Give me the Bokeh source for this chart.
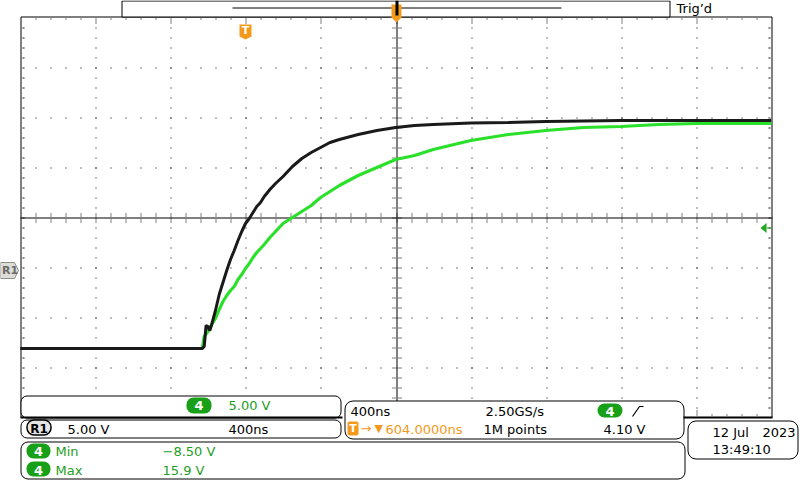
from bokeh.plotting import figure
from bokeh.models import Range1d, BoxAnnotation, Label
from bokeh.embed import file_html
from bokeh.resources import INLINE

# R1 (reference waveform, black), time relative to trigger point
ref_time_ns = [-1200, -800, -400, -230, -220, -210, -200, -190, -180,
               -160, -140, -120, -100, -80, -60, -40, -20,
               0, 20, 40, 60, 80, 100,
               130, 160, 200, 250, 300, 350, 400, 450, 500,
               600, 700, 800, 900, 1000,
               1200, 1400, 1600, 1800, 2000, 2400, 2800]
ref_volts = [-7.8, -7.8, -7.8, -7.8, -7.6, -5.5, -5.6, -6.0, -5.4,
             -4.0, -2.4, -1.2, 0.0, 1.1, 2.0, 3.0, 3.9,
             4.7, 5.2, 5.8, 6.4, 6.8, 7.4,
             8.1, 8.7, 9.4, 10.4, 11.2, 11.8, 12.3, 12.8, 13.1,
             13.6, 14.0, 14.3, 14.5, 14.6,
             14.75, 14.8, 14.9, 14.95, 15.0, 15.0, 15.0]

# Channel 4 (green)
ch4_time_ns = [-1200, -800, -400, -230, -220, -200, -180, -160, -140,
               -120, -100, -80, -60, -40, -20,
               0, 20, 40, 60, 80, 100,
               130, 160, 200, 250, 300, 350, 400, 450, 500,
               600, 700, 800, 900, 1000,
               1200, 1400, 1600, 1800, 2000, 2200, 2400, 2600, 2800]
ch4_volts = [-7.8, -7.8, -7.8, -7.8, -6.6, -6.1, -5.4, -4.8, -3.9,
             -3.1, -2.5, -2.0, -1.6, -0.9, -0.4,
             0.2, 0.7, 1.3, 1.8, 2.2, 2.6,
             3.3, 3.9, 4.7, 5.3, 5.9, 6.5, 7.3, 7.9, 8.5,
             9.5, 10.3, 11.1, 11.5, 12.1,
             13.0, 13.6, 14.0, 14.3, 14.4, 14.6, 14.7, 14.7, 14.7]

ch4_scale_text = "5.00 V"
ref_scale_text = "5.00 V"
ref_timebase_text = "400ns"
timebase_text = "400ns"
sample_rate_text = "2.50GS/s"
record_text = "1M points"
trigger_level_text = "4.10 V"
trigger_offset_text = "604.0000ns"
meas_names = ["Min", "Max"]
meas_values = ["\u22128.50 V", "15.9 V"]
date_text = ["12 Jul", "2023"]
clock_text = "13:49:10"
status_text = "Trig\u2019d"
channel_text = "4"
ref_text = "R1"

# ---------------- layout (screen pixels) ----------------
W, H = 800, 480
GX0, GX1 = 20, 771
GY0, GY1 = 16, 417
DIV_X, DIV_Y = 75.1, 50
NS_PER_DIV, V_PER_DIV = 400, 5
TRIG_COL, GND_ROW = 245, 270
CEN_COL, CEN_ROW = 396, 217

GREEN_TRACE = "#2BE02B"
GREEN_TXT = "#1E9E1E"
GREEN_BADGE = "#18A018"
ORANGE = "#F39A1C"
FONT = "DejaVu Sans"
TEXT_DY = -5   # rendered glyphs sit about 5px below the requested baseline

t_left = (0 - TRIG_COL) / DIV_X * NS_PER_DIV
t_right = (W - TRIG_COL) / DIV_X * NS_PER_DIV
v_top = GND_ROW / DIV_Y * V_PER_DIV
v_bottom = (GND_ROW - H) / DIV_Y * V_PER_DIV

p = figure(width=W, height=H, x_range=Range1d(0, W), y_range=Range1d(H, 0),
           output_backend="svg", toolbar_location=None, title=None,
           x_axis_location=None, y_axis_location=None, min_border=0,
           outline_line_color=None, background_fill_color="white",
           border_fill_color="white")
p.grid.visible = False
p.extra_x_ranges = {"time": Range1d(t_left, t_right)}
p.extra_y_ranges = {"volts": Range1d(v_bottom, v_top)}


def dots(cols, rows, color="black"):
    p.quad(left=cols, right=[c + 1 for c in cols], top=rows,
           bottom=[r + 1 for r in rows], fill_color=color, line_color=None)


major_cols = [round(GX0 + DIV_X * k) for k in range(1, 10)]
major_rows = [GY0 + 1 + DIV_Y * k for k in range(1, 8)]
minor_cols = [round(GX0 + DIV_X / 5 * j) for j in range(1, 50)]
minor_rows = [GY0 + 1 + 10 * j for j in range(1, 40)]

# graticule dots
cs, rs = [], []
for c in major_cols:
    if c == CEN_COL:
        continue
    for r in minor_rows:
        cs.append(c); rs.append(r)
for r in major_rows:
    if r == CEN_ROW:
        continue
    for c in minor_cols:
        cs.append(c); rs.append(r)
# centre line ticks
for r in minor_rows:
    for dc in (-4, -2, 2, 4):
        cs.append(CEN_COL + dc); rs.append(r)
for c in minor_cols:
    for dr in (-4, -2, 2, 4):
        cs.append(c); rs.append(CEN_ROW + dr)
# border ticks
for r in minor_rows:
    for c in (GX0 + 2, GX0 + 3, GX1 - 3, GX1 - 2):
        cs.append(c); rs.append(r)
for c in minor_cols:
    cs.append(c); rs.append(GY0 + 2)
    cs.append(c); rs.append(GY1 - 3)
for c in major_cols:
    for r in (GY0 + 4, GY0 + 6, GY1 - 5, GY1 - 7):
        cs.append(c); rs.append(r)
dots(cs, rs)

# centre cross and border
p.line([CEN_COL + 0.5, CEN_COL + 0.5], [GY0, GY1], line_color="black", line_width=1)
p.line([GX0, GX1 + 1], [CEN_ROW + 0.5, CEN_ROW + 0.5], line_color="black", line_width=1)
p.line([GX0 + 0.5, GX0 + 0.5, GX1 + 0.5, GX1 + 0.5], [GY1, GY0 + 0.5, GY0 + 0.5, GY1],
       line_color="black", line_width=1)

# record bar
p.quad(left=[121.5], right=[669.5], top=[0.5], bottom=[16.5], fill_color="white",
       line_color="black", line_width=1)
p.line([232, 561], [7.5, 7.5], line_color="black", line_width=1)
p.patch([391, 401, 401, 396, 391], [4, 4, 17, 22, 17], fill_color=ORANGE, line_color=None)
p.quad(left=[395], right=[398], top=[0], bottom=[15], fill_color="black", line_color=None)

# trigger point marker
p.patch([239, 251, 251, 245, 239], [24, 24, 36, 39, 36], fill_color=ORANGE, line_color=None)

# R1 tag on the left, trigger level arrow on the right
p.patch([0, 14, 18, 14, 0], [262, 262, 270, 278, 278], fill_color="#DCDDD6",
        line_color="#8E8E8E", line_width=1)
p.patch([760, 766, 766], [227.5, 222.5, 232.5], fill_color="#22A822", line_color=None)
p.line([766, 771], [227.5, 227.5], line_color="#22A822", line_width=1)

# traces
p.line(ch4_time_ns, ch4_volts, x_range_name="time", y_range_name="volts",
       line_color=GREEN_TRACE, line_width=3.2)
p.line(ref_time_ns, ref_volts, x_range_name="time", y_range_name="volts",
       line_color="#1A1A1A", line_width=3.0)


def box(l, r, t, b, fill="white", line="black", lw=1, rad=6):
    p.add_layout(BoxAnnotation(left=l, right=r, top=t, bottom=b, fill_color=fill,
                               fill_alpha=1, line_color=line, line_alpha=1 if line else 0,
                               line_width=lw, border_radius=rad))


# panels
box(20.5, 340.5, 395.5, 417.5, rad=6)
box(20.5, 340.5, 419.5, 437.5, rad=6)
box(20.5, 684.5, 441.5, 478.5, rad=7)
box(344.5, 683.5, 400.5, 438.5, rad=8)
box(687.5, 797.5, 420.5, 458.5, rad=8)
# badges
for (l, r, t, b) in [(186, 211, 397, 413), (26, 50, 443, 458), (26, 50, 461, 476),
                     (597, 622, 403, 417)]:
    box(l, r, t, b, fill=GREEN_BADGE, line=None, rad=7)
box(26.5, 50.5, 419.5, 434.5, fill="#E4E4E4", line="black", lw=1.5, rad=7)
box(347, 358, 421, 435, fill=ORANGE, line=None, rad=2)

# thick bottom edge of graticule + rising edge icon (on top of panels)
for xs in ([GX0, 342], [683, GX1 + 1]):
    rr = p.line(xs, [GY1, GY1], line_color="black", line_width=2)
    rr.level = "overlay"
rr = p.line([632, 639, 643], [416, 406, 406], line_color="black", line_width=1.2)
rr.level = "overlay"


def label(x, y, text, color="black", bold=False, size=13, align="left"):
    p.add_layout(Label(x=x, y=y + TEXT_DY, text=text, text_color=color, text_font=FONT,
                       text_font_size=f"{size}px",
                       text_font_style="bold" if bold else "normal",
                       text_align=align, text_baseline="alphabetic"))


label(676, 13, status_text)
label(245, 35, "T", color="white", bold=True, size=11, align="center")
label(1.5, 275, ref_text, color="#6A6A6A", bold=True, size=11)

label(198.5, 409.5, channel_text, color="white", bold=True, align="center")
label(228, 410, ch4_scale_text, color=GREEN_TXT)

label(38.5, 433, ref_text, bold=True, size=12, align="center")
label(67, 434, ref_scale_text)
label(228, 434, ref_timebase_text)

for yb, name, val in zip([456, 474.5], meas_names, meas_values):
    label(38, yb, channel_text, color="white", bold=True, align="center")
    label(55, yb, name, color=GREEN_TXT)
    label(162, yb, val, color=GREEN_TXT)

label(350, 416, timebase_text)
label(485, 416, sample_rate_text)
label(609.5, 415.5, channel_text, color="white", bold=True, align="center")
label(352.5, 433, "T", color="white", bold=True, size=11, align="center")
label(360, 433, "\u2192", color=ORANGE)
label(374, 433, "\u25BC", color=ORANGE, size=11)
label(385, 434, trigger_offset_text, color=ORANGE)
label(483, 434, record_text)
label(603, 434, trigger_level_text)

label(712, 437, date_text[0])
label(762, 437, date_text[1])
label(712, 453.5, clock_text)

open("out.html", "w").write(file_html(p, INLINE))
